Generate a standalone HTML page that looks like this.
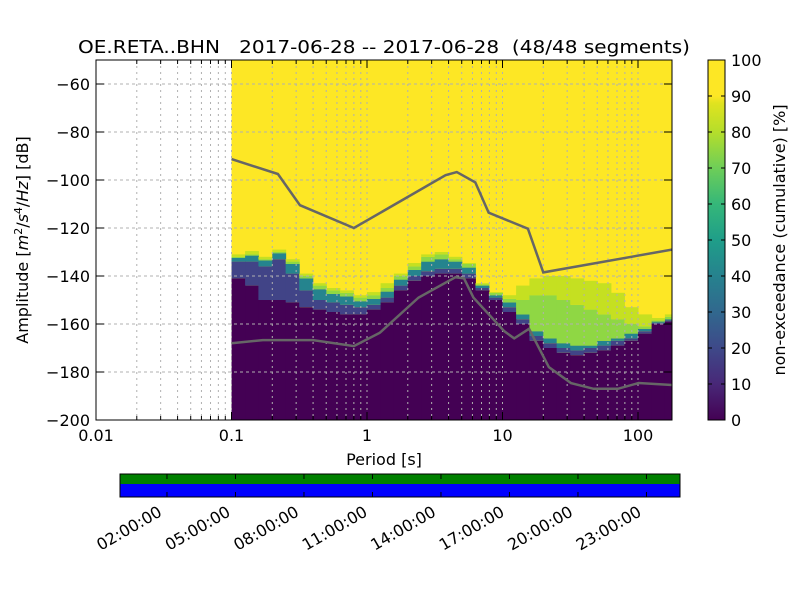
<!DOCTYPE html>
<html><head><meta charset="utf-8"><style>
html,body{margin:0;padding:0;background:#fff;}
svg{display:block;font-family:"DejaVu Sans","Liberation Sans",sans-serif;}
text{white-space:pre;}
</style></head><body>
<svg id="c" width="800" height="600" viewBox="0 0 800 600" xmlns="http://www.w3.org/2000/svg">
<defs>
<linearGradient id="vir" x1="0" y1="1" x2="0" y2="0">
<stop offset="0" stop-color="#440154"/><stop offset="0.1" stop-color="#482878"/><stop offset="0.2" stop-color="#3e4989"/><stop offset="0.3" stop-color="#31688e"/><stop offset="0.4" stop-color="#26828e"/><stop offset="0.5" stop-color="#1f9e89"/><stop offset="0.6" stop-color="#35b779"/><stop offset="0.7" stop-color="#6ece58"/><stop offset="0.8" stop-color="#b5de2b"/><stop offset="0.88" stop-color="#e0e31f"/><stop offset="0.9" stop-color="#fde725"/><stop offset="1" stop-color="#fde725"/>
</linearGradient>
<clipPath id="pc"><rect x="96" y="60" width="576" height="360"/></clipPath>
</defs>
<text x="78" y="53" font-size="18" textLength="612" lengthAdjust="spacingAndGlyphs" xml:space="preserve">OE.RETA..BHN   2017-06-28 -- 2017-06-28  (48/48 segments)</text>
<g id="heat" clip-path="url(#pc)"></g>
<g id="grid" clip-path="url(#pc)"></g>
<g id="lines" clip-path="url(#pc)"></g>
<rect x="96" y="60" width="576" height="360" fill="none" stroke="#000" stroke-width="1"/>
<g id="axes" font-size="16"></g>
<text x="384" y="465" text-anchor="middle" font-size="16">Period [s]</text>
<text transform="translate(28,240) rotate(-90)" text-anchor="middle" font-size="16">Amplitude [<tspan font-style="italic">m</tspan><tspan font-size="11" dy="-6">2</tspan><tspan dy="6">/</tspan><tspan font-style="italic">s</tspan><tspan font-size="11" dy="-6">4</tspan><tspan dy="6">/</tspan><tspan font-style="italic">Hz</tspan>] [dB]</text>
<rect x="708" y="60" width="17" height="360" fill="url(#vir)" stroke="#000"/>
<g id="cbar" font-size="16"></g>
<text transform="translate(785,240) rotate(-90)" text-anchor="middle" font-size="16">non-exceedance (cumulative) [%]</text>
<g>
<rect x="120" y="474" width="560" height="10" fill="#008000"/>
<rect x="120" y="484" width="560" height="13" fill="#0000ff"/>
<rect x="120" y="474" width="560" height="23" fill="none" stroke="#000"/>
</g>
<g id="tbar" font-size="16"></g>
</svg>
<script>
const NS="http://www.w3.org/2000/svg";
const periods=[0.1,0.126,0.158,0.2,0.251,0.316,0.398,0.501,0.631,0.794,1,1.26,1.58,2,2.51,3.16,3.98,5.01,6.31,7.94,10,12.6,15.8,20,25.1,31.6,39.8,50.1,63.1,79.4,100,126,158,200];
const purpleTop=[-141,-144,-150,-150,-151,-153,-154,-155,-156,-156,-154,-151,-146,-142,-140,-139,-139,-141,-146,-150,-155,-160,-167,-170,-172,-173,-172,-171,-169,-167,-164,-160,-159];
const blueTop=[-134,-134,-136,-133,-139,-146,-150,-151,-152,-153,-152,-149,-144,-140,-138,-137,-137,-139,-145,-149,-153,-158,-165,-168,-170,-171,-170,-169,-167,-166,-163,-159.5,-158.5];
const tealTop=[-132.5,-131.5,-133.5,-130.5,-135,-141,-145.5,-147.5,-148.5,-150.5,-149.5,-146.5,-141.5,-137.5,-134,-133,-134,-136.5,-144,-148,-151,-156,-163,-166,-168,-169,-169,-167,-166,-164,-162,-159,-158];
const greenTop=[-132,-131,-133,-130,-134,-140,-144,-146,-147,-149,-148,-145,-140,-136,-132,-131,-133,-135,-143.5,-147,-149.5,-150,-148,-148,-150,-152,-154,-156,-158,-160,-161,-158.5,-157];
const yellowBottom=[-131,-129.6,-132,-129,-133,-139,-143,-145,-146,-148,-146.7,-143,-139,-134.6,-131,-130,-132,-134.6,-143,-146.7,-148,-144,-141,-140,-140,-141,-142,-143,-147,-153,-156,-157.5,-156];
const hnmP=[0.1,0.22,0.32,0.8,3.8,4.6,6.3,7.9,15.4,20,178];
const hnmV=[-91.3,-97.5,-110.5,-120,-98,-96.7,-101,-113.6,-120.3,-138.5,-129];
const lnmP=[0.1,0.17,0.4,0.8,1.24,2.4,4.5,5.2,6.1,10.3,12.2,15.7,22,32,47,71,101,178];
const lnmV=[-168,-166.7,-166.7,-169.2,-163.7,-149,-140.5,-141,-149,-163,-166,-162,-178,-184.6,-187,-187,-184.6,-185.4];
const xTicks=[0.01,0.1,1,10,100];
const xTickLabels=["0.01","0.1","1","10","100"];
const yTicks=[-60,-80,-100,-120,-140,-160,-180,-200];
const cTicks=[0,10,20,30,40,50,60,70,80,90,100];
const timeLabels=["02:00:00","05:00:00","08:00:00","11:00:00","14:00:00","17:00:00","20:00:00","23:00:00"];
const timeHours=[2,5,8,11,14,17,20,23];

const X=p=>96+(Math.log10(p)+2)*135.5;
const Y=d=>420-(d+200)*2.4;
function mk(tag,attrs,parent){const e=document.createElementNS(NS,tag);for(const k in attrs)e.setAttribute(k,attrs[k]);parent.appendChild(e);return e;}
const heat=document.getElementById('heat');
let r=mk('rect',{x:X(0.1),y:60,width:672-X(0.1),height:360,fill:'#fde725'},heat);


const bands=[[purpleTop,null,'#440154'],[blueTop,purpleTop,'#414487'],[tealTop,blueTop,'#25848e'],[greenTop,tealTop,'#8fd744'],[yellowBottom,greenTop,'#c5e021']];
for(let k=0;k<periods.length-1;k++){
  const x0=X(periods[k]),x1=X(periods[k+1]);
  bands.forEach(([top,bot,col])=>{
    const yt=Y(top[k]),yb=bot?Y(bot[k]):420;
    if(yb>yt){const c=mk('rect',{x:x0,y:yt,width:x1-x0+0.5,height:yb-yt,fill:col},heat);
    
    }
  });
}
const grid=document.getElementById('grid');
for(let e=-2;e<=2;e++)for(let m=1;m<10;m++){const x=X(m*Math.pow(10,e));if(x>96&&x<672){const g=mk('line',{x1:x,x2:x,y1:60,y2:420,stroke:'#b0b0b0','stroke-dasharray':'2,4','stroke-width':1},grid);

}}
yTicks.forEach(v=>{const g=mk('line',{x1:96,x2:672,y1:Y(v),y2:Y(v),stroke:'#b0b0b0','stroke-dasharray':'3,3'},grid);

});
const lines=document.getElementById('lines');
function poly(P,V,name){const l=mk('polyline',{points:P.map((p,i)=>X(p)+','+Y(V[i])).join(' '),fill:'none',stroke:'#666','stroke-width':2.5},lines);

}
poly(hnmP,hnmV,'high-noise-model');
poly(lnmP,lnmV,'low-noise-model');
const axes=document.getElementById('axes');
xTicks.forEach((p,i)=>{const x=X(p);mk('line',{x1:x,x2:x,y1:420,y2:412,stroke:'#000'},axes);mk('line',{x1:x,x2:x,y1:60,y2:68,stroke:'#000'},axes);
const t=mk('text',{x:x,y:441,'text-anchor':'middle'},axes);t.textContent=xTickLabels[i];

});
for(let e=-2;e<=2;e++)for(let m=2;m<10;m++){const x=X(m*Math.pow(10,e));if(x<672){mk('line',{x1:x,x2:x,y1:420,y2:416,stroke:'#000'},axes);mk('line',{x1:x,x2:x,y1:60,y2:64,stroke:'#000'},axes);}}
yTicks.forEach(v=>{const y=Y(v);mk('line',{x1:96,x2:104,y1:y,y2:y,stroke:'#000'},axes);mk('line',{x1:664,x2:672,y1:y,y2:y,stroke:'#000'},axes);
const t=mk('text',{x:90,y:y+6,'text-anchor':'end'},axes);t.textContent=String(v).replace('-','\u2212');

});
const cb=document.getElementById('cbar');
cTicks.forEach(v=>{const y=420-v*3.6;mk('line',{x1:721,x2:725,y1:y,y2:y,stroke:'#000'},cb);mk('line',{x1:708,x2:712,y1:y,y2:y,stroke:'#000'},cb);
const t=mk('text',{x:731,y:y+6},cb);t.textContent=v;

});
const tb=document.getElementById('tbar');
timeHours.forEach((h,i)=>{const x=121.3+h*548/24;mk('line',{x1:x,x2:x,y1:474,y2:479,stroke:'#000'},tb);mk('line',{x1:x,x2:x,y1:492,y2:497,stroke:'#000'},tb);
const t=mk('text',{transform:`translate(${x-4},${515}) rotate(-30)`,'text-anchor':'end'},tb);t.textContent=timeLabels[i];

});
</script>
</body></html>
